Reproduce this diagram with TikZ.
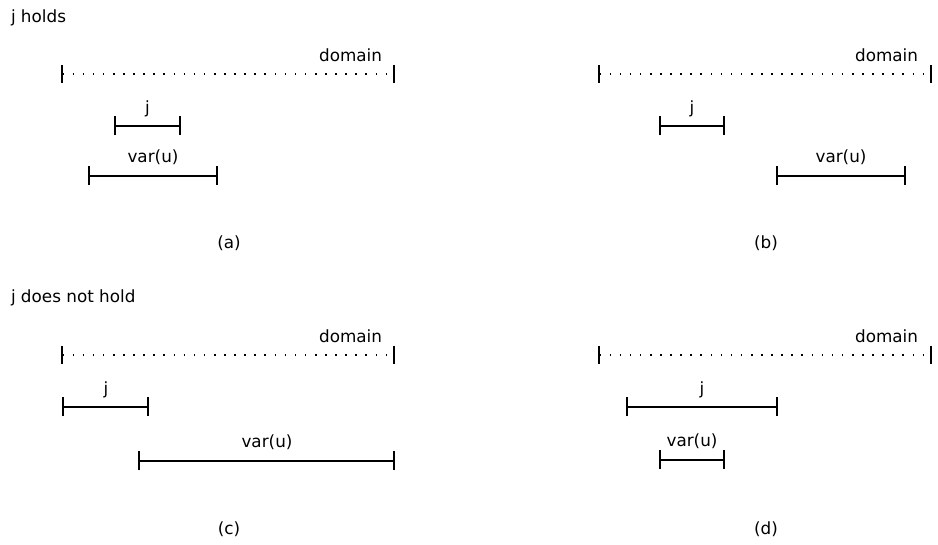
\documentclass[tikz,border=0pt]{standalone}
\usepackage{fontspec}
\setmainfont{DejaVu Sans}
\usetikzlibrary{arrows.meta}
\begin{document}
\begin{tikzpicture}[x=1pt,y=-1pt,
  every node/.style={inner sep=0pt,outer sep=0pt,font=\fontsize{16.8}{20}\selectfont},
  seg/.style={line width=2pt,shorten <=-1pt,shorten >=-1pt,{Bar[width=19pt,line width=2pt]}-{Bar[width=19pt,line width=2pt]}},
  dom/.style={line width=1.6pt,shorten <=-0.9pt,shorten >=-0.9pt,dash pattern=on 1.6pt off 8.5pt,{Bar[width=18pt,line width=1.8pt]}-{Bar[width=18pt,line width=1.8pt]}},
  lab/.style={anchor=base},
  domlab/.style={anchor=base east},
  title/.style={anchor=base west}]
\useasboundingbox (0,0) rectangle (938,545);

% titles
\node[title] (t1) at (11,23) {j holds};
\node[title] (t2) at (11,303) {j does not hold};

% (a)
\coordinate (aD1) at (62,74); \coordinate (aD2) at (394,74);
\coordinate (aJ1) at (115,126); \coordinate (aJ2) at (180,126);
\coordinate (aV1) at (89,176); \coordinate (aV2) at (217,176);
\draw[dom] (aD1) -- (aD2);
\draw[seg] (aJ1) -- (aJ2);
\draw[seg] (aV1) -- (aV2);
\node[domlab] (aDl) at (382,62) {domain};
\node[lab] (aJl) at (147.5,114) {j};
\node[lab] (aVl) at (153,163) {var(u)};
\node[lab] (aC) at (229,249) {(a)};

% (b)
\coordinate (bD1) at (599,74); \coordinate (bD2) at (931,74);
\coordinate (bJ1) at (660,126); \coordinate (bJ2) at (724,126);
\coordinate (bV1) at (777,176); \coordinate (bV2) at (905,176);
\draw[dom] (bD1) -- (bD2);
\draw[seg] (bJ1) -- (bJ2);
\draw[seg] (bV1) -- (bV2);
\node[domlab] (bDl) at (918,62) {domain};
\node[lab] (bJl) at (692,114) {j};
\node[lab] (bVl) at (841,163) {var(u)};
\node[lab] (bC) at (766,249) {(b)};

% (c)
\coordinate (cD1) at (62,355); \coordinate (cD2) at (394,355);
\coordinate (cJ1) at (63,407); \coordinate (cJ2) at (148,407);
\coordinate (cV1) at (139,461); \coordinate (cV2) at (394,461);
\draw[dom] (cD1) -- (cD2);
\draw[seg] (cJ1) -- (cJ2);
\draw[seg] (cV1) -- (cV2);
\node[domlab] (cDl) at (382,343) {domain};
\node[lab] (cJl) at (106,395) {j};
\node[lab] (cVl) at (267,448) {var(u)};
\node[lab] (cC) at (229,534) {(c)};

% (d)
\coordinate (dD1) at (599,355); \coordinate (dD2) at (931,355);
\coordinate (dJ1) at (627,407); \coordinate (dJ2) at (777,407);
\coordinate (dV1) at (660,460); \coordinate (dV2) at (724,460);
\draw[dom] (dD1) -- (dD2);
\draw[seg] (dJ1) -- (dJ2);
\draw[seg] (dV1) -- (dV2);
\node[domlab] (dDl) at (918,343) {domain};
\node[lab] (dJl) at (702,395) {j};
\node[lab] (dVl) at (692,447) {var(u)};
\node[lab] (dC) at (766,534) {(d)};
\end{tikzpicture}
\end{document}
